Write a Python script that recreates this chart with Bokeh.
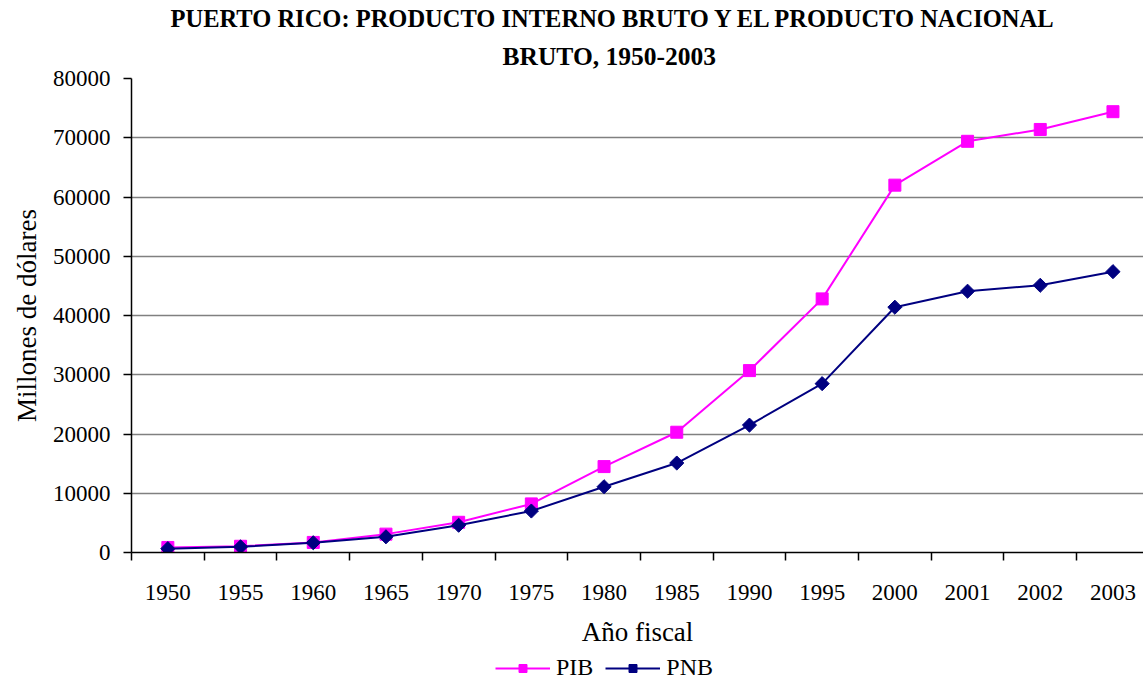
from bokeh.plotting import figure
from bokeh.models import FixedTicker, Title, Legend, Range1d
from bokeh.layouts import column
from bokeh.embed import file_html
from bokeh.resources import INLINE
import math

years = ["1950", "1955", "1960", "1965", "1970", "1975", "1980", "1985",
         "1990", "1995", "2000", "2001", "2002", "2003"]
pib = [850, 1050, 1700, 3100, 5100, 8200, 14500, 20300,
       30700, 42800, 62000, 69400, 71400, 74400]
pnb = [650, 950, 1650, 2650, 4600, 7000, 11100, 15100,
       21500, 28500, 41400, 44100, 45100, 47400]

FONT = "Liberation Serif"
xs = [i + 0.5 for i in range(len(years))]

p = figure(width=1143, height=652, output_backend="svg", toolbar_location=None,
           x_range=Range1d(0, 13.92), y_range=Range1d(0, 80000),
           min_border_left=131, min_border_right=0, min_border_top=78, min_border_bottom=100)
p.outline_line_color = None
p.background_fill_color = "white"
p.border_fill_color = "white"

p.title.text = ""
p.title.visible = False
t2 = Title(text="BRUTO, 1950-2003", align="left", offset=371, text_font=FONT,
           text_font_size="25.5px", text_font_style="bold", text_color="black", standoff=16)
t1 = Title(text="PUERTO RICO: PRODUCTO INTERNO BRUTO Y EL PRODUCTO NACIONAL",
           align="left", offset=39, text_font=FONT, text_font_size="24.5px",
           text_font_style="bold", text_color="black", standoff=0)
p.add_layout(t2, "above")
p.add_layout(t1, "above")

p.line(xs, pib, line_color="#FF00FF", line_width=2)
p.scatter(xs, pib, marker="square", size=12, fill_color="#FF00FF", line_color="#FF00FF")
p.line(xs, pnb, line_color="#000080", line_width=2)
p.scatter(xs, pnb, marker="square", angle=math.pi / 4, size=10,
          fill_color="#000080", line_color="#000080")

xt = FixedTicker(ticks=xs, minor_ticks=list(range(0, 15)))
p.xaxis.ticker = xt
p.xaxis.major_label_overrides = {x: y for x, y in zip(xs, years)}
p.xaxis.major_tick_line_color = None
p.xaxis.major_tick_out = 0
p.xaxis.major_tick_in = 0
p.xaxis.minor_tick_out = 8
p.xaxis.minor_tick_in = 0
p.xaxis.minor_tick_line_color = "black"
p.xaxis.minor_tick_line_width = 1.5
p.xaxis.axis_line_color = "black"
p.xaxis.axis_line_width = 1.5
p.xaxis.major_label_text_font = FONT
p.xaxis.major_label_text_font_size = "23px"
p.xaxis.major_label_text_color = "black"
p.xaxis.major_label_standoff = 24
p.xaxis.axis_label = "Año fiscal"
p.xaxis.axis_label_text_font = FONT
p.xaxis.axis_label_text_font_size = "27px"
p.xaxis.axis_label_text_font_style = "normal"
p.xaxis.axis_label_text_color = "black"
p.xaxis.axis_label_standoff = 14

p.yaxis.ticker = FixedTicker(ticks=list(range(0, 80001, 10000)))
p.yaxis.minor_tick_line_color = None
p.yaxis.major_tick_out = 8
p.yaxis.major_tick_in = 0
p.yaxis.major_tick_line_width = 1.5
p.yaxis.axis_line_color = "black"
p.yaxis.axis_line_width = 1.5
p.yaxis.major_label_text_font = FONT
p.yaxis.major_label_text_font_size = "23px"
p.yaxis.major_label_text_color = "black"
p.yaxis.major_label_standoff = 13
p.yaxis.axis_label = "Millones de dólares"
p.yaxis.axis_label_text_font = FONT
p.yaxis.axis_label_text_font_size = "27px"
p.yaxis.axis_label_text_font_style = "normal"
p.yaxis.axis_label_text_color = "black"
p.yaxis.axis_label_standoff = 8

p.xgrid.visible = False
p.ygrid.ticker = FixedTicker(ticks=list(range(0, 80001, 10000)))
p.ygrid.grid_line_color = "#808080"
p.ygrid.grid_line_width = 1.5

# Legend strip below the chart (same series, drawn outside its visible range)
p2 = figure(width=1143, height=29, output_backend="svg", toolbar_location=None,
            x_range=Range1d(0, 1), y_range=Range1d(0, 1),
            x_axis_location=None, y_axis_location=None, min_border=0)
p2.outline_line_color = None
p2.grid.visible = False
p2.background_fill_color = "white"
p2.border_fill_color = "white"
l1 = p2.line(xs, pib, line_color="#FF00FF", line_width=2)
m1 = p2.scatter(xs, pib, marker="square", size=10, fill_color="#FF00FF", line_color="#FF00FF")
l2 = p2.line(xs, pnb, line_color="#000080", line_width=2)
m2 = p2.scatter(xs, pnb, marker="square", angle=math.pi / 4, size=9,
                fill_color="#000080", line_color="#000080")

legend = Legend(items=[("PIB", [l1, m1]), ("PNB", [l2, m2])],
                orientation="horizontal", location=(364, 0),
                label_text_font=FONT, label_text_font_size="24px", label_text_color="black",
                glyph_width=55, glyph_height=20, spacing=12, padding=0,
                margin=0, border_line_color=None, background_fill_alpha=0,
                label_standoff=6)
p2.add_layout(legend, "center")

open("out.html", "w").write(file_html(column(p, p2), INLINE))
